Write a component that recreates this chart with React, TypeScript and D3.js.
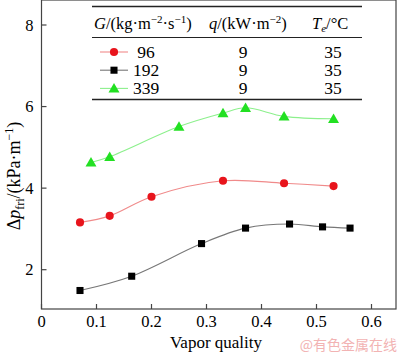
import React, { useEffect, useRef } from 'react';
import * as d3 from 'd3';

const xTicks = [0, 0.1, 0.2, 0.3, 0.4, 0.5, 0.6];
const yTicks = [2, 4, 6, 8];

const x96 = [0.07, 0.124, 0.2, 0.33, 0.441, 0.531];
const y96 = [3.16, 3.32, 3.79, 4.18, 4.12, 4.05];
const x192 = [0.07, 0.164, 0.291, 0.371, 0.451, 0.511, 0.561];
const y192 = [1.49, 1.84, 2.64, 3.02, 3.12, 3.05, 3.02];
const x339 = [0.09, 0.124, 0.25, 0.33, 0.371, 0.441, 0.531];
const y339 = [4.63, 4.77, 5.51, 5.84, 5.97, 5.76, 5.7];

const groups = ['96', '192', '339'];
const qValues = ['9', '9', '9'];
const teValues = ['35', '35', '35'];

const FONT = "'Liberation Serif', 'DejaVu Serif', serif";

export default function App() {
  const ref = useRef<SVGSVGElement>(null);

  useEffect(() => {
    const svg = d3.select(ref.current);
    svg.selectAll('*').remove();

    const width = 400;
    const height = 353;
    const left = 41.5, right = 396, top = 0, bottom = 309;

    const x = d3.scaleLinear().domain([0, 0.6]).range([left, left + 330]);
    const y = d3.scaleLinear().domain([2, 8]).range([269.7, 25]);

    svg.attr('width', width).attr('height', height).style('font-family', FONT);
    svg.append('rect').attr('width', width).attr('height', height).attr('fill', '#fff');

    // frame
    svg.append('rect')
      .attr('x', left).attr('y', top)
      .attr('width', right - left).attr('height', bottom - top)
      .attr('fill', 'none').attr('stroke', '#444').attr('stroke-width', 1.2);

    // x axis ticks (inward)
    const xAxis = svg.append('g');
    xTicks.forEach(t => {
      xAxis.append('line')
        .attr('x1', x(t)).attr('x2', x(t))
        .attr('y1', bottom).attr('y2', bottom - 5)
        .attr('stroke', '#444').attr('stroke-width', 1.2);
      xAxis.append('text')
        .attr('x', x(t)).attr('y', bottom + 18)
        .attr('text-anchor', 'middle').attr('font-size', 16.5)
        .text(t === 0 ? '0' : d3.format('.1f')(t));
    });

    const yAxis = svg.append('g');
    yTicks.forEach(t => {
      yAxis.append('line')
        .attr('x1', left).attr('x2', left + 5)
        .attr('y1', y(t)).attr('y2', y(t))
        .attr('stroke', '#444').attr('stroke-width', 1.2);
      yAxis.append('text')
        .attr('x', left - 8).attr('y', y(t) + 5.5)
        .attr('text-anchor', 'end').attr('font-size', 16.5)
        .text(t);
    });

    // axis labels
    svg.append('text')
      .attr('x', 216).attr('y', 348)
      .attr('text-anchor', 'middle').attr('font-size', 17)
      .text('Vapor quality');

    const yl = svg.append('text')
      .attr('transform', 'translate(20,176) rotate(-90)')
      .attr('text-anchor', 'middle').attr('font-size', 18);
    yl.append('tspan').text('Δ');
    yl.append('tspan').attr('font-style', 'italic').text('p');
    yl.append('tspan').attr('font-size', 12).attr('dy', 4).text('fri');
    yl.append('tspan').attr('dy', -4).text('/(kPa·m');
    yl.append('tspan').attr('font-size', 12).attr('dy', -7).text('−1');
    yl.append('tspan').attr('dy', 7).text(')');

    const series = [
      { xs: x96, ys: y96, line: '#f08a8a', fill: '#e8141c', shape: 'circle' },
      { xs: x192, ys: y192, line: '#777', fill: '#000', shape: 'square' },
      { xs: x339, ys: y339, line: '#8cf08c', fill: '#22e022', shape: 'triangle' },
    ];

    const symbolFor = (shape: string) =>
      shape === 'circle' ? d3.symbol(d3.symbolCircle, 52)
        : shape === 'square' ? d3.symbol(d3.symbolSquare, 50)
          : d3.symbol(d3.symbolTriangle, 52);

    const lineGen = d3.line<[number, number]>()
      .x(d => x(d[0])).y(d => y(d[1]))
      .curve(d3.curveCatmullRom.alpha(0.5));

    series.forEach(s => {
      const pts: [number, number][] = s.xs.map((v, i) => [v, s.ys[i]]);
      svg.append('path')
        .datum(pts)
        .attr('fill', 'none').attr('stroke', s.line).attr('stroke-width', 1.1)
        .attr('d', lineGen);
      svg.append('g').selectAll('path')
        .data(pts).enter().append('path')
        .attr('d', symbolFor(s.shape)())
        .attr('transform', d => `translate(${x(d[0])},${y(d[1]) + (s.shape === 'triangle' ? 1 : 0)})`)
        .attr('fill', s.fill);
    });

    // legend table
    const lg = svg.append('g');
    const lx0 = 92, lx1 = 362;
    [6.5, 37.5, 99.5].forEach((ly, i) => {
      lg.append('line')
        .attr('x1', lx0).attr('x2', lx1).attr('y1', ly).attr('y2', ly)
        .attr('stroke', '#222').attr('stroke-width', i === 1 ? 1.2 : 1.6);
    });

    const h1 = lg.append('text').attr('x', 94).attr('y', 29).attr('font-size', 16.5);
    h1.append('tspan').attr('font-style', 'italic').text('G');
    h1.append('tspan').text('/(kg·m');
    h1.append('tspan').attr('font-size', 11).attr('dy', -6).text('−2');
    h1.append('tspan').attr('dy', 6).text('·s');
    h1.append('tspan').attr('font-size', 11).attr('dy', -6).text('−1');
    h1.append('tspan').attr('dy', 6).text(')');

    const h2 = lg.append('text').attr('x', 209).attr('y', 29).attr('font-size', 16.5);
    h2.append('tspan').attr('font-style', 'italic').text('q');
    h2.append('tspan').text('/(kW·m');
    h2.append('tspan').attr('font-size', 11).attr('dy', -6).text('−2');
    h2.append('tspan').attr('dy', 6).text(')');

    const h3 = lg.append('text').attr('x', 312).attr('y', 29).attr('font-size', 16.5);
    h3.append('tspan').attr('font-style', 'italic').text('T');
    h3.append('tspan').attr('font-style', 'italic').attr('font-size', 11).attr('dy', 3).text('e');
    h3.append('tspan').attr('dy', -3).text('/°C');

    groups.forEach((g, i) => {
      const ry = 52 + i * 18.2;
      const s = series[i];
      lg.append('line')
        .attr('x1', 100).attr('x2', 128).attr('y1', ry).attr('y2', ry)
        .attr('stroke', s.line).attr('stroke-width', 1.1);
      lg.append('path')
        .attr('d', symbolFor(s.shape)())
        .attr('transform', `translate(114,${ry + (s.shape === 'triangle' ? 1 : 0)})`)
        .attr('fill', s.fill);
      lg.append('text').attr('x', 146).attr('y', ry + 6)
        .attr('text-anchor', 'middle').attr('font-size', 17.5).text(g);
      lg.append('text').attr('x', 243).attr('y', ry + 6)
        .attr('text-anchor', 'middle').attr('font-size', 17.5).text(qValues[i]);
      lg.append('text').attr('x', 333).attr('y', ry + 6)
        .attr('text-anchor', 'middle').attr('font-size', 17.5).text(teValues[i]);
    });

    // watermark
    svg.append('text')
      .attr('x', 397).attr('y', 350)
      .attr('text-anchor', 'end').attr('font-size', 14)
      .style('font-family', "'Noto Sans CJK SC', sans-serif")
      .attr('fill', '#f2b3b3')
      .text('@有色金属在线');
  }, []);

  return <svg ref={ref} style={{ display: 'block', position: 'absolute', left: 0, top: 0 }} />;
}
